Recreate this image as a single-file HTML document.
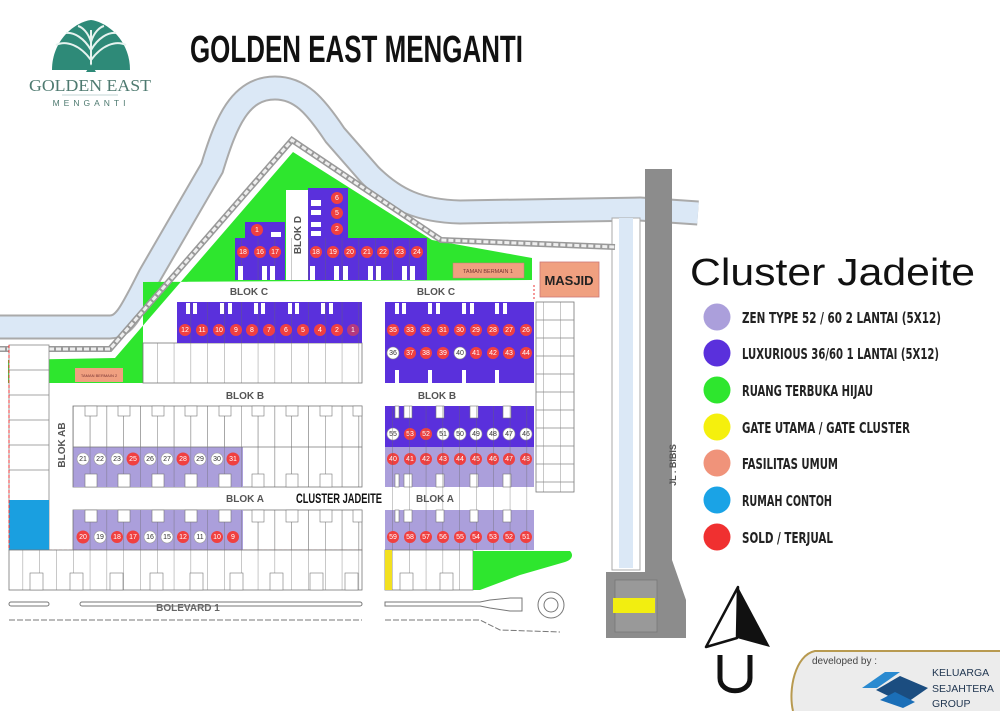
<!DOCTYPE html>
<html><head><meta charset="utf-8"><style>
html,body{margin:0;padding:0;background:#fff;}
svg{display:block;}
.n{font-family:"Liberation Sans Narrow","Liberation Sans",sans-serif;font-size:7px;text-anchor:middle;fill:#fff;}
.nw{font-family:"Liberation Sans Narrow","Liberation Sans",sans-serif;font-size:7px;text-anchor:middle;fill:#333;}
.bl{font-family:"Liberation Sans",sans-serif;font-weight:bold;font-size:10px;fill:#555;text-anchor:middle;}
.lg{font-family:"Liberation Sans Narrow","DejaVu Sans Condensed","Liberation Sans",sans-serif;font-weight:bold;font-size:15px;fill:#222;}
</style></head><body>
<svg width="1000" height="711" viewBox="0 0 1000 711" xmlns="http://www.w3.org/2000/svg">
<defs>
<pattern id="uw" x="73" y="0" width="16.8" height="40" patternUnits="userSpaceOnUse">
<rect width="16.8" height="40" fill="#fff"/><line x1="0" y1="0" x2="0" y2="40" stroke="#777" stroke-width="0.8"/>
</pattern>
<pattern id="ub" x="73" y="0" width="16.8" height="80" patternUnits="userSpaceOnUse">
<line x1="0" y1="0" x2="0" y2="80" stroke="#666" stroke-width="0.7"/>
</pattern>
</defs>

<!-- logo -->
<g fill="#2e8a78">
<path d="M52,70 C52,40 75,22 91,20 C107,22 130,40 130,70 Z"/>
</g>
<g stroke="#e6f3ef" stroke-width="2" fill="none">
<path d="M91,68 L91,30"/><path d="M91,60 C80,45 66,40 56,45"/><path d="M91,60 C102,45 116,40 126,45"/>
<path d="M91,50 C84,38 74,32 66,33"/><path d="M91,50 C98,38 108,32 116,33"/>
<path d="M91,42 C88,32 82,27 78,26"/><path d="M91,42 C94,32 100,27 104,26"/>
</g>
<path d="M86,72 L91,64 L96,72 Z" fill="#2e8a78"/>
<text x="90" y="91" font-family="Liberation Serif,serif" font-size="17" fill="#4e7a70" text-anchor="middle" textLength="122" lengthAdjust="spacingAndGlyphs">GOLDEN EAST</text>
<line x1="62" y1="95" x2="118" y2="95" stroke="#8aa" stroke-width="0.6"/>
<text x="91" y="106" font-family="Liberation Sans,sans-serif" font-size="8.5" fill="#4e7a70" text-anchor="middle" letter-spacing="4">MENGANTI</text>

<text x="190" y="62" font-family="Liberation Sans Narrow,Liberation Sans,sans-serif" font-weight="bold" font-size="38" fill="#111" textLength="333" lengthAdjust="spacingAndGlyphs">GOLDEN EAST MENGANTI</text>

<!-- river -->
<path id="rv" d="M0,327 L110,327 C125,327 132,310 150,275 L212,168 C226,122 240,88 275,88 C300,88 315,105 335,135 L370,175 C395,200 420,211 460,212 L640,209 L698,213" fill="none" stroke="#aaa" stroke-width="25"/>
<path d="M0,327 L110,327 C125,327 132,310 150,275 L212,168 C226,122 240,88 275,88 C300,88 315,105 335,135 L370,175 C395,200 420,211 460,212 L640,209 L698,213" fill="none" stroke="#dbe8f6" stroke-width="21"/>
<!-- vertical canal -->
<rect x="612" y="218" width="28" height="352" fill="#fff" stroke="#aaa" stroke-width="1"/>
<rect x="619" y="218" width="14" height="350" fill="#dbe8f6"/>
<!-- JL BIBIS -->
<path d="M645,169 L672,169 L672,560 L686,600 L686,638 L606,638 L606,572 L645,572 Z" fill="#8c8c8c"/>
<rect x="615" y="580" width="42" height="52" fill="#999" stroke="#777" stroke-width="0.8"/>
<rect x="613" y="598" width="42" height="15" fill="#f2ee10"/>
<text transform="translate(676,465) rotate(-90)" font-family="Liberation Sans,sans-serif" font-size="9" font-weight="bold" fill="#555" text-anchor="middle">JL . BIBIS</text>

<!-- green area -->
<path d="M293,152 L432,240 L532,258 L532,280 L143,282 L143,383 L8,383 L8,360 L115,358 Z" fill="#2ee62e"/>
<path d="M0,349 L110,349 L292,140 L441,240 L615,247" fill="none" stroke="#999" stroke-width="6"/>
<path d="M0,349 L110,349 L292,140 L441,240 L615,247" fill="none" stroke="#eee" stroke-width="3" stroke-dasharray="5 2"/>

<!-- Blok D -->
<rect x="286" y="190" width="22" height="90" fill="#fff"/>
<text transform="translate(301,235) rotate(-90)" class="bl" font-size="9">BLOK D</text>
<rect x="308" y="188" width="40" height="50" fill="#5a30dc"/>
<rect x="245" y="222" width="40" height="16" fill="#5a30dc"/>
<rect x="235" y="238" width="50" height="42" fill="#5a30dc"/>
<rect x="308" y="238" width="119" height="42" fill="#5a30dc"/>
<rect x="235" y="238" width="192" height="42" fill="url(#ub)"/>
<g fill="#fff"><rect x="311" y="200" width="10" height="6"/><rect x="311" y="210" width="10" height="5"/><rect x="311" y="222" width="10" height="5"/><rect x="311" y="231" width="10" height="5"/><rect x="271" y="232" width="10" height="5"/>
<rect x="238" y="266" width="5" height="14"/><rect x="262" y="266" width="5" height="14"/><rect x="270" y="266" width="5" height="14"/>
<rect x="310" y="266" width="5" height="14"/><rect x="334" y="266" width="5" height="14"/><rect x="343" y="266" width="5" height="14"/><rect x="368" y="266" width="5" height="14"/><rect x="376" y="266" width="5" height="14"/><rect x="402" y="266" width="5" height="14"/><rect x="410" y="266" width="5" height="14"/></g>
<g fill="#f04040"><circle cx="337" cy="198" r="6"/><circle cx="337" cy="213" r="6"/><circle cx="337" cy="229" r="6"/><circle cx="257" cy="230" r="6"/>
<circle cx="243" cy="252" r="6"/><circle cx="260" cy="252" r="6"/><circle cx="275" cy="252" r="6"/>
<circle cx="316" cy="252" r="6"/><circle cx="333" cy="252" r="6"/><circle cx="350" cy="252" r="6"/><circle cx="367" cy="252" r="6"/><circle cx="383" cy="252" r="6"/><circle cx="400" cy="252" r="6"/><circle cx="417" cy="252" r="6"/></g>
<g class="n"><text x="337" y="200">6</text><text x="337" y="215">5</text><text x="337" y="231">2</text><text x="257" y="232">1</text>
<text x="243" y="254">18</text><text x="260" y="254">16</text><text x="275" y="254">17</text>
<text x="316" y="254">18</text><text x="333" y="254">19</text><text x="350" y="254">20</text><text x="367" y="254">21</text><text x="383" y="254">22</text><text x="400" y="254">23</text><text x="417" y="254">24</text></g>

<!-- facilities -->
<rect x="453" y="263" width="71" height="15" fill="#f0a080" stroke="#c77" stroke-width="0.5"/>
<text x="488" y="273" font-family="Liberation Sans Narrow,sans-serif" font-size="5.5" fill="#733" text-anchor="middle">TAMAN BERMAIN 1</text>
<rect x="540" y="262" width="59" height="35" fill="#f0a080" stroke="#c77" stroke-width="0.8"/>
<text x="569" y="285" font-family="Liberation Sans Narrow,Liberation Sans,sans-serif" font-weight="bold" font-size="13" fill="#222" text-anchor="middle">MASJID</text>
<rect x="75" y="368" width="48" height="14" fill="#f0a080"/>
<text x="99" y="377" font-family="Liberation Sans Narrow,sans-serif" font-size="4" fill="#733" text-anchor="middle">TAMAN BERMAIN 2</text>
<line x1="534" y1="285" x2="534" y2="300" stroke="#e33" stroke-dasharray="2 2"/>

<text x="249" y="295" class="bl">BLOK C</text><text x="436" y="295" class="bl">BLOK C</text>

<!-- Blok C left -->
<rect x="143" y="343" width="219" height="40" fill="url(#uw)"/>
<rect x="143" y="343" width="219" height="40" fill="none" stroke="#777" stroke-width="0.8"/>
<rect x="177" y="302" width="185" height="41" fill="#5a30dc"/>
<rect x="177" y="302" width="185" height="41" fill="url(#ub)"/>
<!-- Blok C right -->
<rect x="385" y="302" width="149" height="81" fill="#5a30dc"/>
<g fill="#f04040"><circle cx="185" cy="330" r="6"/><circle cx="202" cy="330" r="6"/><circle cx="219" cy="330" r="6"/><circle cx="236" cy="330" r="6"/><circle cx="252" cy="330" r="6"/><circle cx="269" cy="330" r="6"/><circle cx="286" cy="330" r="6"/><circle cx="303" cy="330" r="6"/><circle cx="320" cy="330" r="6"/><circle cx="337" cy="330" r="6"/><circle cx="353" cy="330" r="6" opacity="0.6"/>
<circle cx="393" cy="330" r="6"/><circle cx="410" cy="330" r="6"/><circle cx="426" cy="330" r="6"/><circle cx="443" cy="330" r="6"/><circle cx="460" cy="330" r="6"/><circle cx="476" cy="330" r="6"/><circle cx="493" cy="330" r="6"/><circle cx="509" cy="330" r="6"/><circle cx="526" cy="330" r="6"/>
<circle cx="410" cy="353" r="6"/><circle cx="426" cy="353" r="6"/><circle cx="443" cy="353" r="6"/><circle cx="476" cy="353" r="6"/><circle cx="493" cy="353" r="6"/><circle cx="509" cy="353" r="6"/><circle cx="526" cy="353" r="6"/></g>
<g fill="#fff" stroke="#888" stroke-width="0.6"><circle cx="393" cy="353" r="6"/><circle cx="460" cy="353" r="6"/></g>
<g class="n"><text x="185" y="332">12</text><text x="202" y="332">11</text><text x="219" y="332">10</text><text x="236" y="332">9</text><text x="252" y="332">8</text><text x="269" y="332">7</text><text x="286" y="332">6</text><text x="303" y="332">5</text><text x="320" y="332">4</text><text x="337" y="332">2</text><text x="353" y="332">1</text>
<text x="393" y="332">35</text><text x="410" y="332">33</text><text x="426" y="332">32</text><text x="443" y="332">31</text><text x="460" y="332">30</text><text x="476" y="332">29</text><text x="493" y="332">28</text><text x="509" y="332">27</text><text x="526" y="332">26</text>
<text x="410" y="355">37</text><text x="426" y="355">38</text><text x="443" y="355">39</text><text x="476" y="355">41</text><text x="493" y="355">42</text><text x="509" y="355">43</text><text x="526" y="355">44</text></g>
<g class="nw"><text x="393" y="355">36</text><text x="460" y="355">40</text></g>
<g fill="#fff"><rect x="186" y="303" width="4" height="11"/><rect x="193" y="303" width="4" height="11"/><rect x="220" y="303" width="4" height="11"/><rect x="228" y="303" width="4" height="11"/><rect x="254" y="303" width="4" height="11"/><rect x="261" y="303" width="4" height="11"/><rect x="288" y="303" width="4" height="11"/><rect x="295" y="303" width="4" height="11"/><rect x="321" y="303" width="4" height="11"/><rect x="329" y="303" width="4" height="11"/>
<rect x="395" y="303" width="4" height="11"/><rect x="402" y="303" width="4" height="11"/><rect x="428" y="303" width="4" height="11"/><rect x="436" y="303" width="4" height="11"/><rect x="462" y="303" width="4" height="11"/><rect x="470" y="303" width="4" height="11"/><rect x="495" y="303" width="4" height="11"/><rect x="503" y="303" width="4" height="11"/>
<rect x="395" y="370" width="4" height="13"/><rect x="428" y="370" width="4" height="13"/><rect x="462" y="370" width="4" height="13"/><rect x="495" y="370" width="4" height="13"/></g>

<!-- right column units -->
<rect x="536" y="302" width="38" height="190" fill="url(#uw)" stroke="#777" stroke-width="0.8"/>
<g stroke="#888" stroke-width="0.7"><line x1="536" y1="320" x2="574" y2="320"/><line x1="536" y1="338" x2="574" y2="338"/><line x1="536" y1="356" x2="574" y2="356"/><line x1="536" y1="374" x2="574" y2="374"/><line x1="536" y1="392" x2="574" y2="392"/><line x1="536" y1="410" x2="574" y2="410"/><line x1="536" y1="428" x2="574" y2="428"/><line x1="536" y1="446" x2="574" y2="446"/><line x1="536" y1="464" x2="574" y2="464"/><line x1="536" y1="482" x2="574" y2="482"/></g>

<!-- left column units -->
<rect x="9" y="345" width="40" height="205" fill="#fff" stroke="#888" stroke-width="0.8"/>
<g stroke="#888" stroke-width="0.7"><line x1="9" y1="370" x2="49" y2="370"/><line x1="9" y1="395" x2="49" y2="395"/><line x1="9" y1="420" x2="49" y2="420"/><line x1="9" y1="445" x2="49" y2="445"/><line x1="9" y1="470" x2="49" y2="470"/></g>
<rect x="9" y="500" width="40" height="50" fill="#1a9fe0"/>
<line x1="9" y1="345" x2="9" y2="550" stroke="#e33" stroke-dasharray="3 2"/>
<text transform="translate(65,445) rotate(-90)" class="bl">BLOK AB</text>

<text x="245" y="399" class="bl">BLOK B</text><text x="437" y="399" class="bl">BLOK B</text>

<!-- Blok B left -->
<rect x="73" y="406" width="289" height="81" fill="url(#uw)" stroke="#777" stroke-width="0.8"/>
<rect x="73" y="447" width="170" height="40" fill="#ab9fdb"/>
<rect x="73" y="406" width="289" height="81" fill="url(#ub)"/>
<line x1="73" y1="447" x2="362" y2="447" stroke="#777" stroke-width="0.7"/>
<!-- Blok B right -->
<rect x="385" y="406" width="149" height="41" fill="#5a30dc"/>
<rect x="385" y="447" width="149" height="40" fill="#ab9fdb"/>
<g fill="#f04040"><circle cx="133" cy="459" r="6.5"/><circle cx="183" cy="459" r="6.5"/><circle cx="233" cy="459" r="6.5"/>
<circle cx="410" cy="434" r="6"/><circle cx="426" cy="434" r="6"/>
<circle cx="393" cy="459" r="6"/><circle cx="410" cy="459" r="6"/><circle cx="426" cy="459" r="6"/><circle cx="443" cy="459" r="6"/><circle cx="460" cy="459" r="6"/><circle cx="476" cy="459" r="6"/><circle cx="493" cy="459" r="6"/><circle cx="509" cy="459" r="6"/><circle cx="526" cy="459" r="6"/></g>
<g fill="#fff" stroke="#999" stroke-width="0.6"><circle cx="83" cy="459" r="6"/><circle cx="100" cy="459" r="6"/><circle cx="117" cy="459" r="6"/><circle cx="150" cy="459" r="6"/><circle cx="167" cy="459" r="6"/><circle cx="200" cy="459" r="6"/><circle cx="217" cy="459" r="6"/>
<circle cx="393" cy="434" r="6"/><circle cx="443" cy="434" r="6"/><circle cx="460" cy="434" r="6"/><circle cx="476" cy="434" r="6"/><circle cx="493" cy="434" r="6"/><circle cx="509" cy="434" r="6"/><circle cx="526" cy="434" r="6"/></g>
<g class="nw"><text x="83" y="461">21</text><text x="100" y="461">22</text><text x="117" y="461">23</text><text x="150" y="461">26</text><text x="167" y="461">27</text><text x="200" y="461">29</text><text x="217" y="461">30</text>
<text x="393" y="436">55</text><text x="443" y="436">51</text><text x="460" y="436">50</text><text x="476" y="436">49</text><text x="493" y="436">48</text><text x="509" y="436">47</text><text x="526" y="436">46</text></g>
<g class="n"><text x="133" y="461">25</text><text x="183" y="461">28</text><text x="233" y="461">31</text><text x="410" y="436">53</text><text x="426" y="436">52</text>
<text x="393" y="461">40</text><text x="410" y="461">41</text><text x="426" y="461">42</text><text x="443" y="461">43</text><text x="460" y="461">44</text><text x="476" y="461">45</text><text x="493" y="461">46</text><text x="509" y="461">47</text><text x="526" y="461">48</text></g>
<g fill="#fff" stroke="#777" stroke-width="0.6"><rect x="85" y="406" width="12" height="10"/><rect x="118" y="406" width="12" height="10"/><rect x="152" y="406" width="12" height="10"/><rect x="185" y="406" width="12" height="10"/><rect x="219" y="406" width="12" height="10"/><rect x="252" y="406" width="12" height="10"/><rect x="286" y="406" width="12" height="10"/><rect x="320" y="406" width="12" height="10"/><rect x="353" y="406" width="9" height="10"/>
<rect x="85" y="474" width="12" height="13"/><rect x="118" y="474" width="12" height="13"/><rect x="152" y="474" width="12" height="13"/><rect x="185" y="474" width="12" height="13"/><rect x="219" y="474" width="12" height="13"/><rect x="252" y="474" width="12" height="13"/><rect x="286" y="474" width="12" height="13"/><rect x="320" y="474" width="12" height="13"/>
<rect x="395" y="406" width="4" height="12"/><rect x="404" y="406" width="8" height="12"/><rect x="436" y="406" width="8" height="12"/><rect x="470" y="406" width="8" height="12"/><rect x="503" y="406" width="8" height="12"/>
<rect x="395" y="474" width="4" height="13"/><rect x="404" y="474" width="8" height="13"/><rect x="436" y="474" width="8" height="13"/><rect x="470" y="474" width="8" height="13"/><rect x="503" y="474" width="8" height="13"/></g>

<text x="245" y="502" class="bl">BLOK A</text><text x="435" y="502" class="bl">BLOK A</text>
<text x="339" y="503" font-family="Liberation Sans Narrow,Liberation Sans,sans-serif" font-weight="bold" font-size="14" fill="#111" text-anchor="middle" textLength="86" lengthAdjust="spacingAndGlyphs">CLUSTER JADEITE</text>

<!-- Blok A -->
<rect x="73" y="510" width="289" height="40" fill="url(#uw)" stroke="#777" stroke-width="0.8"/>
<rect x="73" y="510" width="170" height="40" fill="#ab9fdb"/>
<rect x="73" y="510" width="289" height="40" fill="url(#ub)"/>
<rect x="385" y="510" width="149" height="40" fill="#ab9fdb"/>
<rect x="385" y="406" width="149" height="144" fill="url(#ub)"/>
<g fill="#f04040"><circle cx="83" cy="537" r="6.5"/><circle cx="117" cy="537" r="6"/><circle cx="133" cy="537" r="6.5"/><circle cx="183" cy="537" r="6"/><circle cx="217" cy="537" r="6"/><circle cx="233" cy="537" r="6"/>
<circle cx="393" cy="537" r="6"/><circle cx="410" cy="537" r="6"/><circle cx="426" cy="537" r="6"/><circle cx="443" cy="537" r="6"/><circle cx="460" cy="537" r="6"/><circle cx="476" cy="537" r="6"/><circle cx="493" cy="537" r="6"/><circle cx="509" cy="537" r="6"/><circle cx="526" cy="537" r="6"/></g>
<g fill="#fff" stroke="#999" stroke-width="0.6"><circle cx="100" cy="537" r="6"/><circle cx="150" cy="537" r="6"/><circle cx="167" cy="537" r="6"/><circle cx="200" cy="537" r="6"/></g>
<g class="n"><text x="83" y="539">20</text><text x="117" y="539">18</text><text x="133" y="539">17</text><text x="183" y="539">12</text><text x="217" y="539">10</text><text x="233" y="539">9</text>
<text x="393" y="539">59</text><text x="410" y="539">58</text><text x="426" y="539">57</text><text x="443" y="539">56</text><text x="460" y="539">55</text><text x="476" y="539">54</text><text x="493" y="539">53</text><text x="509" y="539">52</text><text x="526" y="539">51</text></g>
<g class="nw"><text x="100" y="539">19</text><text x="150" y="539">16</text><text x="167" y="539">15</text><text x="200" y="539">11</text></g>
<g fill="#fff" stroke="#777" stroke-width="0.6"><rect x="85" y="510" width="12" height="12"/><rect x="118" y="510" width="12" height="12"/><rect x="152" y="510" width="12" height="12"/><rect x="185" y="510" width="12" height="12"/><rect x="219" y="510" width="12" height="12"/><rect x="252" y="510" width="12" height="12"/><rect x="286" y="510" width="12" height="12"/><rect x="320" y="510" width="12" height="12"/><rect x="353" y="510" width="9" height="12"/>
<rect x="395" y="510" width="4" height="12"/><rect x="404" y="510" width="8" height="12"/><rect x="436" y="510" width="8" height="12"/><rect x="470" y="510" width="8" height="12"/><rect x="503" y="510" width="8" height="12"/></g>
<line x1="49" y1="550" x2="362" y2="550" stroke="#e33" stroke-width="0.6" stroke-dasharray="3 2"/>

<!-- bottom row -->
<rect x="9" y="550" width="353" height="40" fill="url(#uw)" stroke="#777" stroke-width="0.8"/>
<rect x="385" y="550" width="88" height="40" fill="url(#uw)" stroke="#777" stroke-width="0.8"/>
<g fill="#fff" stroke="#777" stroke-width="0.6"><rect x="30" y="573" width="13" height="17"/><rect x="70" y="573" width="13" height="17"/><rect x="110" y="573" width="13" height="17"/><rect x="150" y="573" width="13" height="17"/><rect x="190" y="573" width="13" height="17"/><rect x="230" y="573" width="13" height="17"/><rect x="270" y="573" width="13" height="17"/><rect x="310" y="573" width="13" height="17"/><rect x="345" y="573" width="13" height="17"/><rect x="400" y="573" width="13" height="17"/><rect x="440" y="573" width="13" height="17"/></g>
<rect x="385" y="550" width="7" height="40" fill="#f2e020"/>
<path d="M473,551 L570,551 C574,555 572,560 565,562 L520,575 L480,590 L473,590 Z" fill="#2ee62e"/>

<!-- boulevard -->
<g fill="none" stroke="#777" stroke-width="1">
<rect x="9" y="602" width="40" height="4" rx="2"/>
<rect x="80" y="602" width="282" height="4" rx="2"/>
<path d="M385,602 L480,602 L490,600 L510,598 L522,598 L522,611 L510,611 L490,608 L480,606 L385,606 Z"/>
<circle cx="551" cy="605" r="13"/><circle cx="551" cy="605" r="7"/>
<path d="M9,620 L362,620 M385,620 L480,620 L500,630 L560,632" stroke-dasharray="6 2"/>
</g>
<text x="188" y="611" font-family="Liberation Sans,sans-serif" font-weight="bold" font-size="10" fill="#666" text-anchor="middle">BOLEVARD 1</text>

<!-- legend -->
<text x="690" y="285" font-family="Liberation Sans,sans-serif" font-size="38" fill="#111" textLength="285" lengthAdjust="spacingAndGlyphs">Cluster Jadeite</text>
<circle cx="717" cy="317" r="13.5" fill="#ab9fdb"/><text x="742" y="323" class="lg" textLength="199" lengthAdjust="spacingAndGlyphs">ZEN TYPE 52 / 60 2 LANTAI (5X12)</text>
<circle cx="717" cy="353" r="13.5" fill="#5a30dc"/><text x="742" y="359" class="lg" textLength="197" lengthAdjust="spacingAndGlyphs">LUXURIOUS 36/60 1 LANTAI (5X12)</text>
<circle cx="717" cy="390" r="13.5" fill="#2ee62e"/><text x="742" y="396" class="lg" textLength="131" lengthAdjust="spacingAndGlyphs">RUANG TERBUKA HIJAU</text>
<circle cx="717" cy="427" r="13.5" fill="#f5f00d"/><text x="742" y="433" class="lg" textLength="168" lengthAdjust="spacingAndGlyphs">GATE UTAMA / GATE CLUSTER</text>
<circle cx="717" cy="463" r="13.5" fill="#f0937a"/><text x="742" y="469" class="lg" textLength="96" lengthAdjust="spacingAndGlyphs">FASILITAS UMUM</text>
<circle cx="717" cy="500" r="13.5" fill="#1aa3e6"/><text x="742" y="506" class="lg" textLength="90" lengthAdjust="spacingAndGlyphs">RUMAH CONTOH</text>
<circle cx="717" cy="537" r="13.5" fill="#f03030"/><text x="742" y="543" class="lg" textLength="91" lengthAdjust="spacingAndGlyphs">SOLD / TERJUAL</text>

<!-- north arrow -->
<path d="M738,587 L706,647 L737,638 Z" fill="#fff" stroke="#111" stroke-width="2.5" stroke-linejoin="round"/>
<path d="M738,587 L770,647 L737,638 Z" fill="#111"/>
<path d="M720,655 L720,678 C720,695 750,695 750,678 L750,655" fill="none" stroke="#111" stroke-width="5"/>

<!-- developer badge -->
<path d="M1000,651 L815,651 C795,655 788,690 793,711 L1000,711 Z" fill="#ececec"/>
<path d="M1000,651 L815,651 C795,655 788,690 793,711" fill="none" stroke="#b89a50" stroke-width="2"/>
<text x="812" y="664" font-family="Liberation Sans,sans-serif" font-size="10" fill="#444">developed by :</text>
<path d="M862,688 L885,672 L900,672 L877,688 Z" fill="#2a8ad0"/>
<path d="M876,690 L900,676 L928,688 L905,704 Z" fill="#1b4d80"/>
<path d="M880,700 L895,692 L915,702 L903,708 Z" fill="#1b6fb8"/>
<g font-family="Liberation Sans,sans-serif" font-size="10.5" fill="#1f3550"><text x="932" y="676">KELUARGA</text><text x="932" y="692">SEJAHTERA</text><text x="932" y="707">GROUP</text></g>
</svg>
</body></html>
